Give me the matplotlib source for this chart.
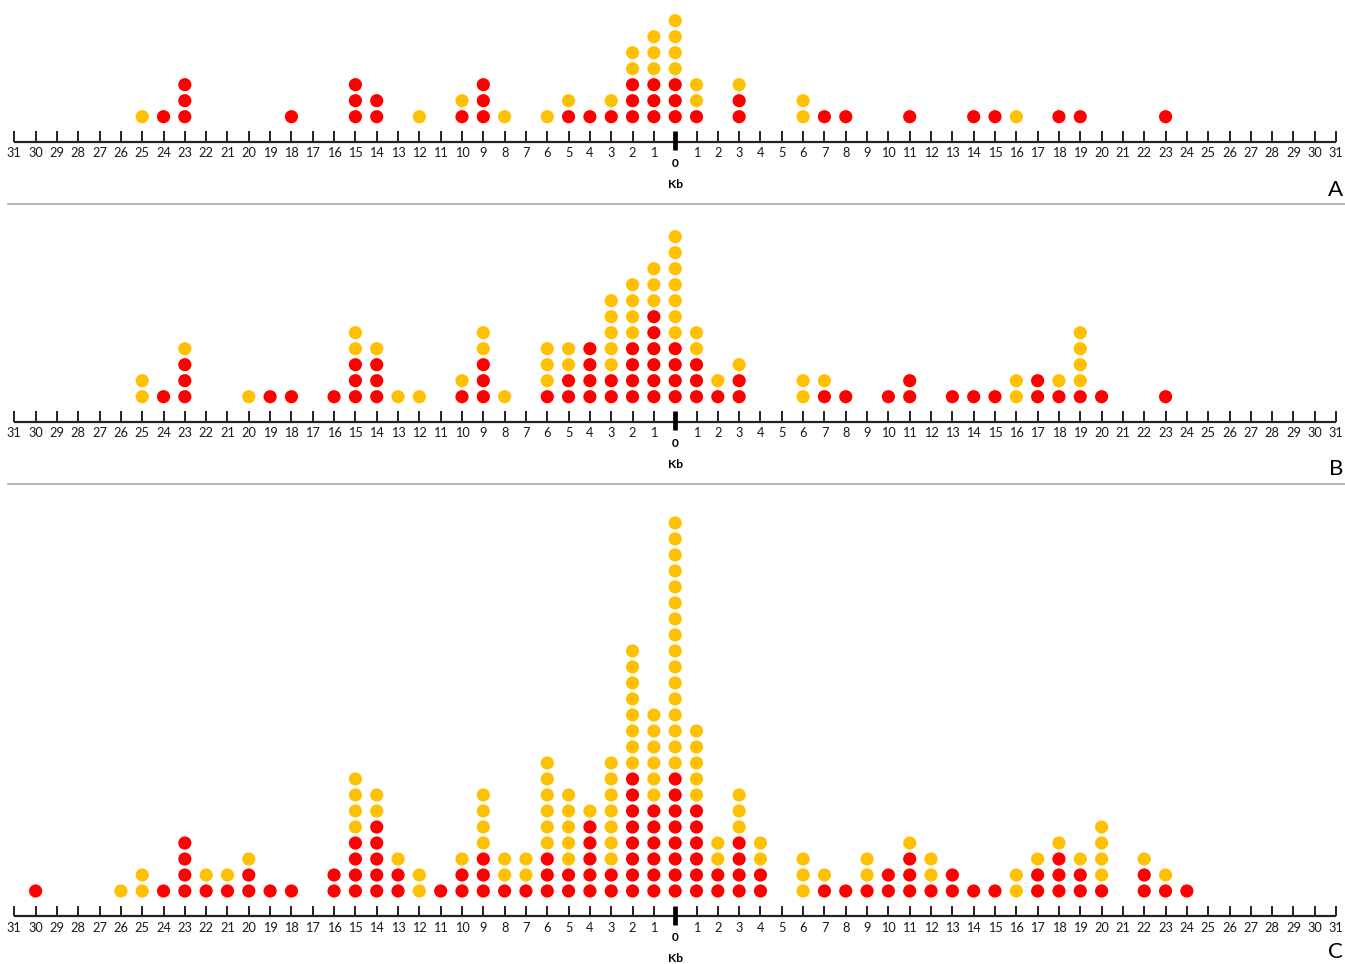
import numpy as np
import matplotlib
matplotlib.use('Agg')
import matplotlib.pyplot as plt

plt.rcParams['font.family'] = ['Lato', 'DejaVu Sans']

RED = '#FF0000'
YEL = '#FFC000'

# distance from 0 (kb), negative = left side; counts of stacked dots (red at bottom, yellow on top)
a_pos = [-25, -24, -23, -18, -15, -14, -12, -10, -9, -8, -6, -5, -4, -3, -2, -1, 0, 1, 3, 6, 7, 8, 11, 14, 15, 16, 18, 19, 23]
a_red = [0, 1, 3, 1, 3, 2, 0, 1, 3, 0, 0, 1, 1, 1, 3, 3, 3, 1, 2, 0, 1, 1, 1, 1, 1, 0, 1, 1, 1]
a_yel = [1, 0, 0, 0, 0, 0, 1, 1, 0, 1, 1, 1, 0, 1, 2, 3, 4, 2, 1, 2, 0, 0, 0, 0, 0, 1, 0, 0, 0]

b_pos = [-25, -24, -23, -20, -19, -18, -16, -15, -14, -13, -12, -10, -9, -8, -6, -5, -4, -3, -2, -1, 0,
         1, 2, 3, 6, 7, 8, 10, 11, 13, 14, 15, 16, 17, 18, 19, 20, 23]
b_red = [0, 1, 3, 0, 1, 1, 1, 3, 3, 0, 0, 1, 3, 0, 1, 2, 4, 2, 4, 6, 4,
         3, 1, 2, 0, 1, 1, 1, 2, 1, 1, 1, 0, 2, 1, 1, 1, 1]
b_yel = [2, 0, 1, 1, 0, 0, 0, 2, 1, 1, 1, 1, 2, 1, 3, 2, 0, 5, 4, 3, 7,
         2, 1, 1, 2, 1, 0, 0, 0, 0, 0, 0, 2, 0, 1, 4, 0, 0]

c_pos = [-30, -26, -25, -24, -23, -22, -21, -20, -19, -18, -16, -15, -14, -13, -12, -11, -10, -9, -8, -7,
         -6, -5, -4, -3, -2, -1, 0, 1, 2, 3, 4, 6, 7, 8, 9, 10, 11, 12, 13, 14, 15, 16, 17, 18, 19, 20,
         22, 23, 24]
c_red = [1, 0, 0, 1, 4, 1, 1, 2, 1, 1, 2, 4, 5, 2, 0, 1, 2, 3, 1, 1,
         3, 2, 5, 2, 8, 6, 8, 6, 2, 4, 2, 0, 1, 1, 1, 2, 3, 1, 2, 1, 1, 0, 2, 3, 2, 1,
         2, 1, 1]
c_yel = [0, 1, 2, 0, 0, 1, 1, 1, 0, 0, 0, 4, 2, 1, 2, 0, 1, 4, 2, 2,
         6, 5, 1, 7, 8, 6, 16, 5, 2, 3, 2, 3, 1, 0, 2, 0, 1, 2, 0, 0, 0, 2, 1, 1, 1, 4,
         1, 1, 0]

ticks = np.arange(-31, 32)

W, H = 1345, 964
X0, DX, ROW = 675.2, 21.32, 16.0

fig = plt.figure(figsize=(W / 100, H / 100), dpi=100)


def panel(top, line, bottom, pos, red, yel, letter, letter_dy, sep=True):
    ax = fig.add_axes([0, 1 - bottom / H, 1, (bottom - top) / H])
    ax.set_xlim(-X0 / DX, (W - X0) / DX)
    ax.set_ylim(-(bottom - line) / ROW, (line - top) / ROW)
    ax.axis('off')

    xs, ys, cs = [], [], []
    for p, r, y in zip(pos, red, yel):
        for k in range(r + y):
            xs.append(p)
            ys.append(25 / ROW + k)
            cs.append(RED if k < r else YEL)
    ax.scatter(xs, ys, s=90, c=cs, linewidths=0, clip_on=False, zorder=3)

    # axis line with ticks
    ax.plot([ticks[0], ticks[-1]], [0, 0], color='#222222', lw=1.6, solid_capstyle='butt')
    ax.vlines(ticks[ticks != 0], 0, 10.5 / ROW, color='#222222', lw=1.4)
    ax.vlines(0, -8.5 / ROW, 10.5 / ROW, color='black', lw=3.4)
    for t in ticks:
        if t != 0:
            ax.text(t, -11.5 / ROW, str(abs(t)), ha='center', va='center', fontsize=9.2, color='#1a1a1a')
    ax.text(0, -21.5 / ROW, '0', ha='center', va='center', fontsize=8.6, fontweight='bold')
    ax.text(0, -42.5 / ROW, 'Kb', ha='center', va='center', fontsize=8.6, fontweight='bold')
    ax.text((W - 2) / DX - X0 / DX, -letter_dy / ROW, letter, ha='right', va='center', fontsize=16)
    if sep:
        ax.axhline(-(bottom - line) / ROW, xmin=8 / W, xmax=1, color='#a6a6a6', lw=1.2, clip_on=False)


panel(0, 141.7, 204, a_pos, a_red, a_yel, 'A', 48)
panel(204, 421.7, 484, b_pos, b_red, b_yel, 'B', 47)
panel(484, 916, 964, c_pos, c_red, c_yel, 'C', 36, sep=False)

fig.savefig('out.png', dpi=100)
